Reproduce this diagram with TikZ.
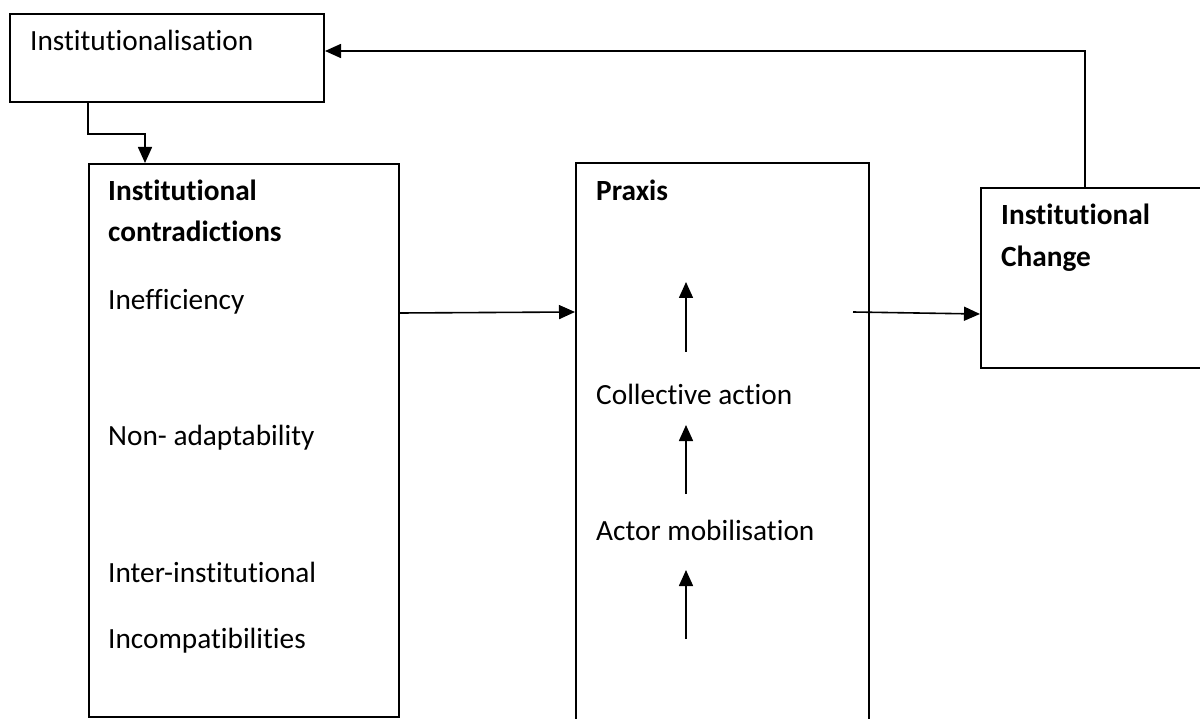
\documentclass[tikz,border=0pt]{standalone}
\usepackage{fontspec}
\setmainfont{Carlito}[Ligatures={NoCommon,NoRequired,NoContextual}]
\usetikzlibrary{arrows.meta}

\tikzset{
  box/.style={draw=black, line width=2pt, fill=none, inner sep=0pt, anchor=north west},
  arr/.style={draw=black, line width=1.6pt, -{Triangle[length=16pt, width=14pt]}},
  lbl/.style={anchor=base west, inner sep=0pt, font=\fontsize{29.3}{35}\selectfont},
  head/.style={lbl, font=\fontsize{29.3}{35}\selectfont\bfseries},
}

\begin{document}
\begin{tikzpicture}[x=1pt, y=-1pt]
  \useasboundingbox (0,0) rectangle (1200,719);
  \clip (0,0) rectangle (1200,719);
  \fill[white] (0,0) rectangle (1200,719);

  % boxes
  \node[box, minimum width=314pt, minimum height=88pt]  (inst)   at (9,13)    {};
  \node[box, minimum width=310pt, minimum height=553pt] (contra) at (88,163)  {};
  \node[box, minimum width=293pt, minimum height=600pt] (praxis) at (575,162) {};
  \node[box, minimum width=240pt, minimum height=180pt] (change) at (980,187) {};

  % texts
  \node[lbl]  (tinst)   at (30,51)   {Institutionalisation};
  \node[head] (tcontra) at (108,201) {Institutional};
  \node[head] (tcontr2) at (108,242) {contradictions};
  \node[lbl]  (ineff)   at (108,310) {Inefficiency};
  \node[lbl]  (nonad)   at (108,445) {Non- adaptability};
  \node[lbl]  (inter)   at (108,582) {Inter-institutional};
  \node[lbl]  (incomp)  at (108,648) {Incompatibilities};

  \node[head] (tpraxis) at (596,201) {Praxis};
  \node[lbl]  (collect) at (596,405) {Collective action};
  \node[lbl]  (actor)   at (596,540) {Actor mobilisation};

  \node[head] (tchange) at (1001,225) {Institutional};
  \node[head] (tchang2) at (1001,267) {Change};

  % upward steps inside the praxis box
  \coordinate (p1a) at (686,352); \coordinate (p1b) at (686,282);
  \coordinate (p2a) at (686,494); \coordinate (p2b) at (686,425);
  \coordinate (p3a) at (686,639); \coordinate (p3b) at (686,570);
  \draw[arr] (p1a) -- (p1b);
  \draw[arr] (p2a) -- (p2b);
  \draw[arr] (p3a) -- (p3b);

  % connectors between boxes
  \draw[arr] (inst.south -| contra.west) -- ++(0,31) -| ([xshift=57pt]contra.north west);
  \draw[arr] (contra.east |- 0,313) -- (praxis.west |- 0,312);
  \coordinate (pout) at (853,312);
  \draw[arr] (pout) -- (change.west |- 0,314);
  \draw[arr] (change.north -| 1085,0) |- (inst.east |- 0,51);
\end{tikzpicture}
\end{document}
